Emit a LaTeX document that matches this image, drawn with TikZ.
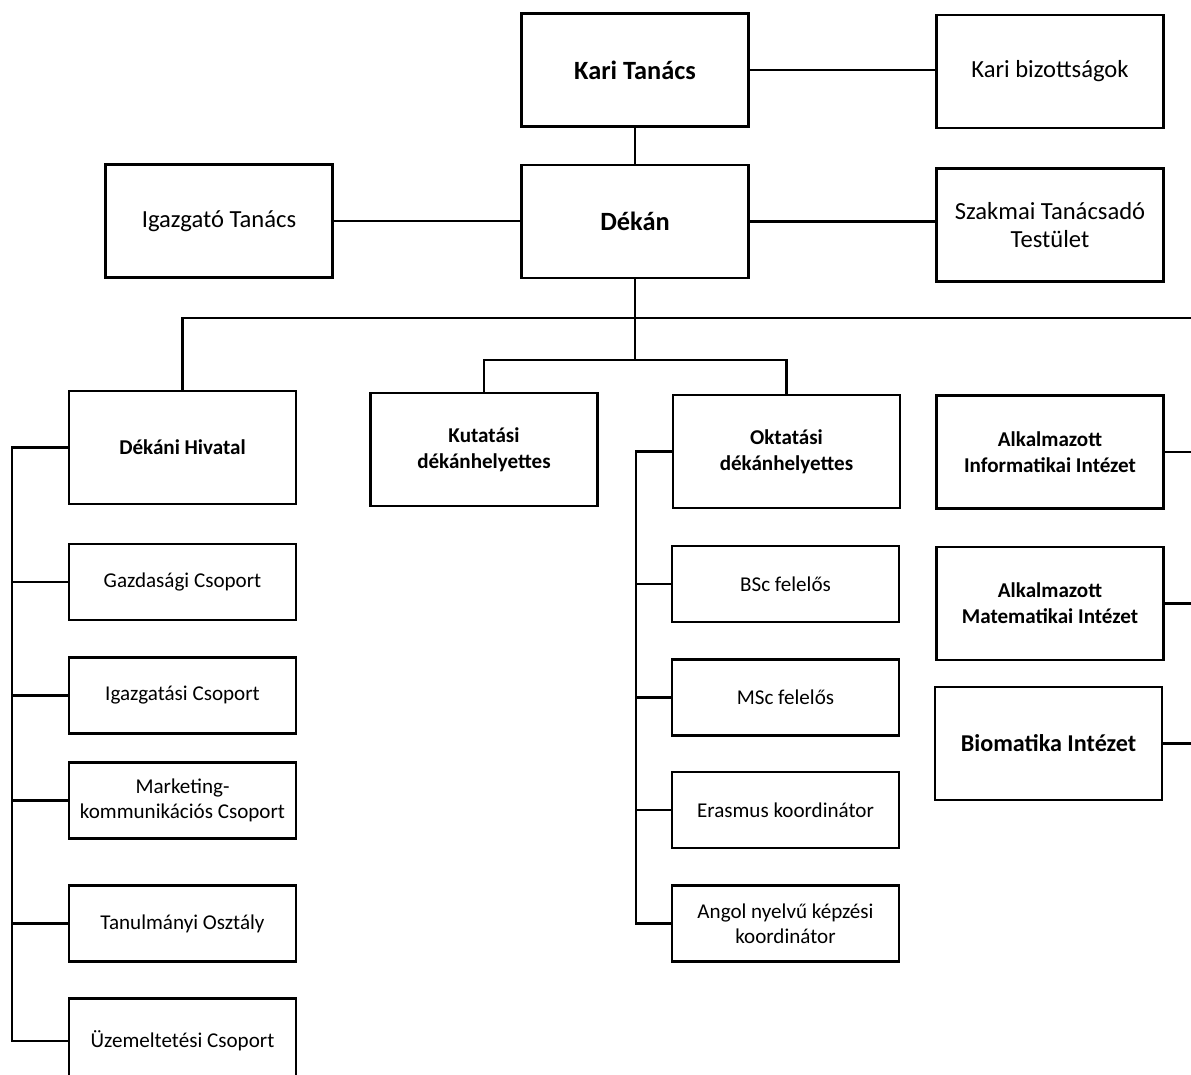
\documentclass[tikz,border=0pt]{standalone}
\usepackage{fontspec}
\setmainfont{Carlito}
\begin{document}
\begin{tikzpicture}[x=0.02cm, y=-0.02cm]
  %
  \tikzstyle{b} = [draw=black, line width=1.4pt, minimum width=4.54cm, minimum height=2.26cm, inner sep=1pt, align=center, font=\fontsize{14}{16}\selectfont]
  \tikzstyle{bt} = [b, font=\fontsize{15}{17}\selectfont\bfseries]
  \tikzstyle{bs} = [b, font=\fontsize{12}{14.8}\selectfont\bfseries]
  \tikzstyle{s} = [b, minimum height=1.52cm, font=\fontsize{12}{14.5}\selectfont]
  \tikzstyle{l} = [line width=1.4pt]
  \useasboundingbox (0,0) rectangle (1191,1075);
  \clip (0,0) rectangle (1191,1075);
  % top
  \node[bt] (kt) at (635,70) {Kari Tanács};
  \node[b] (kb) at (1050,71.5) {Kari bizottságok};
  \node[bt] (dk) at (635,221.5) {Dékán};
  \node[b] (it) at (219,221) {Igazgató Tanács};
  \node[b] (szt) at (1050,225) {Szakmai Tanácsadó\\Testület};
  % second level
  \node[bs] (dh) at (182.5,447.5) {Dékáni Hivatal};
  \node[bs] (kut) at (484,449.5) {Kutatási\\dékánhelyettes};
  \node[bs] (okt) at (786.5,451.5) {Oktatási\\dékánhelyettes};
  \node[bs] (aii) at (1050,452) {Alkalmazott\\Informatikai Intézet};
  \node[bs] (ami) at (1050,603.5) {Alkalmazott\\Matematikai Intézet};
  \node[bt, font=\fontsize{13.75}{16}\selectfont\bfseries] (bio) at (1048.5,743.5) {Biomatika Intézet};
  % Dékáni Hivatal
  \node[s] (gcs) at (182.5,582) {Gazdasági Csoport};
  \node[s] (ics) at (182.5,695.5) {Igazgatási Csoport};
  \node[s] (mkcs) at (182.5,800.5) {Marketing-\\kommunikációs Csoport};
  \node[s] (to) at (182.5,923.5) {Tanulmányi Osztály};
  \node[s, minimum height=1.7cm] (ucs) at (182.5,1041) {Üzemeltetési Csoport};
  % Oktatási dékánhelyettes
  \node[s] (bsc) at (785.5,584) {BSc felelős};
  \node[s] (msc) at (785.5,697.5) {MSc felelős};
  \node[s] (era) at (785.5,810) {Erasmus koordinátor};
  \node[s] (ang) at (785.5,923.5) {Angol nyelvű képzési\\koordinátor};
  % connectors
  \coordinate (mid) at (635,360);
  \coordinate (rbus) at (1210,318);
  \coordinate (lbus) at (12,449);
  \coordinate (mbus) at (636,451);
  \draw[l] (kt.east) -- (kt.east -| kb.west);
  \draw[l] (kt) -- (dk);
  \draw[l] (it.east) -- (it.east -| dk.west);
  \draw[l] (dk.east) -- (dk.east -| szt.west);
  \draw[l] (dk.south) -- (mid);
  \draw[l] (kut.north) |- (mid) -| (okt.north);
  \draw[l] (dh.north) |- (rbus);
  \draw[l] (rbus) -- (bio -| rbus);
  \foreach \n in {aii,ami,bio}
    \draw[l] (\n.east) -- (\n -| rbus);
  \draw[l] (dh.west) -| (ucs -| lbus) -- (ucs.west);
  \foreach \n in {gcs,ics,mkcs,to}
    \draw[l] (\n.west) -- (\n -| lbus);
  \draw[l] (okt.west) -| (ang -| mbus) -- (ang.west);
  \foreach \n in {bsc,msc,era}
    \draw[l] (\n.west) -- (\n -| mbus);
\end{tikzpicture}
\end{document}
